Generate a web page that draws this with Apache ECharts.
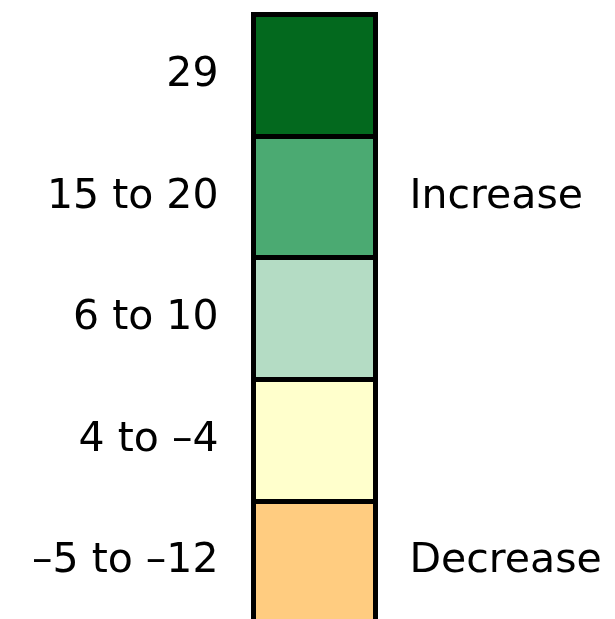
<!DOCTYPE html>
<html>
<head>
<meta charset="utf-8">
<script src="https://cdn.jsdelivr.net/npm/echarts@6/dist/echarts.min.js"></script>
<style>
  html, body { margin: 0; padding: 0; background: #ffffff; }
  #main { width: 615px; height: 619px; }
</style>
</head>
<body>
<div id="main"></div>
<script>
// 分级图例数据
var ranges = ['29', '15 to 20', '6 to 10', '4 to \u20134', '\u20135 to \u201312'];
var sideLabels = ['', 'Increase', '', '', 'Decrease'];
var colors = ['#03691E', '#4BAA72', '#B4DCC4', '#FFFFCC', '#FFCC80'];
var values = [1, 1, 1, 1, 1];

var chart = echarts.init(document.getElementById('main'));

var option = {
  animation: false,
  grid: {
    left: 253.5,
    top: 14.5,
    width: 122,
    height: 608,
    outerBoundsMode: 'none',
    containLabel: false,
    show: true,
    z: 5,
    backgroundColor: 'transparent',
    borderColor: '#000',
    borderWidth: 5
  },
  xAxis: {
    type: 'value',
    min: 0,
    max: 1,
    show: false
  },
  yAxis: [
    {
      type: 'category',
      inverse: true,
      data: ranges,
      z: 5,
      axisLine: { show: false },
      axisTick: { show: false },
      splitLine: {
        show: true,
        lineStyle: { color: '#000', width: 5 }
      },
      axisLabel: {
        margin: 35,
        color: '#000',
        fontFamily: 'DejaVu Sans',
        fontSize: 41
      }
    },
    {
      type: 'category',
      position: 'right',
      inverse: true,
      data: sideLabels,
      axisLine: { show: false },
      axisTick: { show: false },
      splitLine: { show: false },
      axisLabel: {
        margin: 34,
        color: '#000',
        fontFamily: 'DejaVu Sans',
        fontSize: 41
      }
    }
  ],
  series: [
    {
      type: 'bar',
      barWidth: '100%',
      z: 2,
      data: values.map(function (v, i) {
        return {
          value: v,
          itemStyle: { color: colors[i] }
        };
      })
    }
  ]
};

chart.setOption(option);
</script>
</body>
</html>
